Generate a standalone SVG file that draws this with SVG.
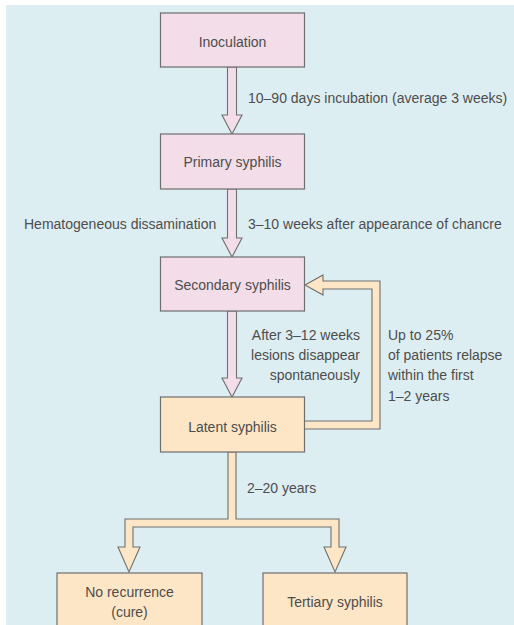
<svg xmlns="http://www.w3.org/2000/svg" width="514" height="625" viewBox="0 0 514 625">
  <style>
    .bg { fill: #ddeef2; }
    .node-pink { fill: #f3dde8; stroke: #6f6f6f; stroke-width: 1.2; }
    .node-cream { fill: #fce6c6; stroke: #6f6f6f; stroke-width: 1.2; }
    .arrow-pink { fill: #f3dde8; stroke: #6f6f6f; stroke-width: 1.1; stroke-linejoin: miter; }
    .arrow-cream { fill: #fce6c6; stroke: #6f6f6f; stroke-width: 1.1; stroke-linejoin: miter; }
    text { font-family: "Liberation Sans", Arial, sans-serif; font-size: 14px; fill: #4d4d4d; }
    .c { text-anchor: middle; }
    .r { text-anchor: end; }
  </style>

  <rect x="0" y="0" width="514" height="625" fill="#ffffff"/>
  <rect class="bg" x="6" y="5" width="508" height="620"/>

  <g id="connectors">
    <!-- Inoculation to Primary syphilis -->
    <path class="arrow-pink" d="M227.5,67 V115 H222 L232,134 L242,115 H236.5 V67 Z"/>
    <!-- Primary to Secondary syphilis -->
    <path class="arrow-pink" d="M227.5,189 V238 H222 L232,257 L242,238 H236.5 V189 Z"/>
    <!-- Secondary to Latent syphilis -->
    <path class="arrow-pink" d="M227.5,311 V378 H222 L232,397 L242,378 H236.5 V311 Z"/>
    <!-- Relapse loop: Latent back to Secondary -->
    <path class="arrow-cream" d="M304,421 H372 V289 H323 V295 L305,285 L323,275 V281 H380 V429 H304 Z"/>
    <!-- Latent branching to outcomes -->
    <path class="arrow-cream" d="M228,452 V519 H125 V547 H118 L129,572 L140,547 H133 V527 H331 V547 H324 L335,572 L346,547 H339 V519 H236 V452 Z"/>
  </g>

  <g id="inoculation">
    <rect class="node-pink" x="160.5" y="13" width="144" height="54"/>
    <text class="c" x="232.5" y="47">Inoculation</text>
  </g>
  <g id="primary-syphilis">
    <rect class="node-pink" x="160.5" y="134" width="144" height="55"/>
    <text class="c" x="232.5" y="167">Primary syphilis</text>
  </g>
  <g id="secondary-syphilis">
    <rect class="node-pink" x="160.5" y="257" width="144" height="54"/>
    <text class="c" x="232.5" y="290">Secondary syphilis</text>
  </g>
  <g id="latent-syphilis">
    <rect class="node-cream" x="160.5" y="397" width="144" height="55"/>
    <text class="c" x="232.5" y="432">Latent syphilis</text>
  </g>
  <g id="no-recurrence">
    <rect class="node-cream" x="57" y="573" width="145" height="60"/>
    <text class="c" x="129.5" y="597">No recurrence</text>
    <text class="c" x="129.5" y="617">(cure)</text>
  </g>
  <g id="tertiary-syphilis">
    <rect class="node-cream" x="263" y="573" width="144" height="60"/>
    <text class="c" x="335" y="607">Tertiary syphilis</text>
  </g>

  <g id="labels">
    <text x="248" y="103">10–90 days incubation (average 3 weeks)</text>
    <text x="24" y="229">Hematogeneous dissamination</text>
    <text x="248" y="229">3–10 weeks after appearance of chancre</text>
    <text class="r" x="360" y="340">After 3–12 weeks</text>
    <text class="r" x="360" y="360">lesions disappear</text>
    <text class="r" x="360" y="380">spontaneously</text>
    <text x="388" y="340">Up to 25%</text>
    <text x="388" y="360">of patients relapse</text>
    <text x="388" y="380">within the first</text>
    <text x="388" y="401">1–2 years</text>
    <text x="247" y="493">2–20 years</text>
  </g>
</svg>
